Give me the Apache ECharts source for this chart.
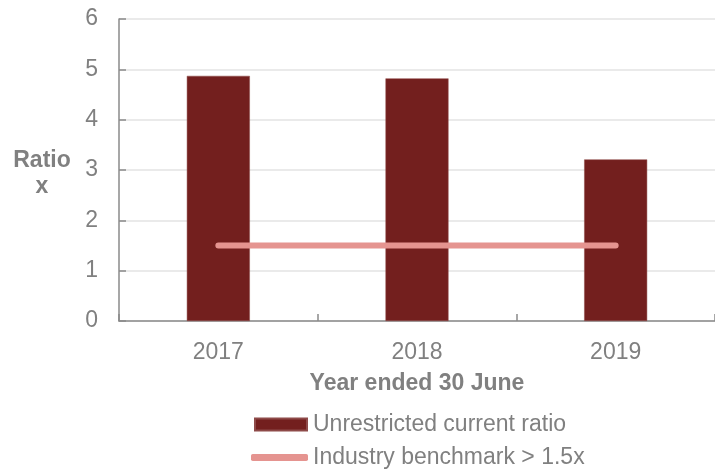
<!DOCTYPE html>
<html>
<head>
<meta charset="utf-8">
<script src="https://cdn.jsdelivr.net/npm/echarts@6/dist/echarts.min.js"></script>
<style>
  html, body { margin: 0; padding: 0; background: #fff; }
  #chart { width: 715px; height: 471px; }
</style>
</head>
<body>
<div id="chart"></div>
<script>
// Financial years shown on the category axis
const years = ['2017', '2018', '2019'];
// Unrestricted current ratio (x) per year
const currentRatio = [4.87, 4.82, 3.21];
// Industry benchmark level (x)
const benchmark = [1.5, 1.5, 1.5];

const barName = 'Unrestricted current ratio';
const lineName = 'Industry benchmark > 1.5x';

const gray = '#808080';
const font = 'Liberation Sans, Arial, sans-serif';

const chart = echarts.init(document.getElementById('chart'), null, { renderer: 'canvas' });

chart.setOption({
  animation: false,
  backgroundColor: '#ffffff',
  textStyle: { fontFamily: font },
  grid: { left: 119, right: -4, top: 19, bottom: 150, containLabel: false },
  xAxis: {
    type: 'category',
    data: years,
    boundaryGap: true,
    name: 'Year ended 30 June',
    nameLocation: 'middle',
    nameGap: 51,
    nameTextStyle: { color: gray, fontSize: 23, fontWeight: 'bold', fontFamily: font },
    axisLine: { lineStyle: { color: '#8a8a8a', width: 1.5 } },
    axisTick: { show: true, inside: true, length: 7, lineStyle: { color: '#8a8a8a', width: 1.5 } },
    axisLabel: { color: gray, fontSize: 23, margin: 20, fontFamily: font },
    splitLine: { show: false }
  },
  yAxis: {
    type: 'value',
    min: 0,
    max: 6,
    interval: 1,
    axisLine: { show: true, lineStyle: { color: '#8a8a8a', width: 1.5 } },
    axisTick: { show: true, inside: true, length: 7, lineStyle: { color: '#8a8a8a', width: 1.5 } },
    axisLabel: { color: gray, fontSize: 23, margin: 21, fontFamily: font },
    splitLine: { show: true, lineStyle: { color: '#e3e3e3', width: 1.5 } }
  },
  graphic: [
    {
      type: 'text',
      x: 42,
      y: 148,
      style: {
        text: 'Ratio\nx',
        fill: gray,
        font: 'bold 23px ' + font,
        align: 'center',
        verticalAlign: 'top',
        lineHeight: 26
      }
    }
  ],
  legend: [
    {
      data: [{ name: barName, icon: 'rect' }],
      left: 249,
      top: 408,
      itemWidth: 52,
      itemHeight: 12,
      itemGap: 0,
      textStyle: { color: gray, fontSize: 23, fontFamily: font, padding: [0, 0, 0, 1] },
      selectedMode: false
    },
    {
      data: [{ name: lineName, icon: 'roundRect' }],
      left: 246,
      top: 441,
      itemWidth: 57,
      itemHeight: 7,
      itemGap: 0,
      textStyle: { color: gray, fontSize: 23, fontFamily: font, padding: [15, 0, 0, 0] },
      selectedMode: false
    }
  ],
  series: [
    {
      name: barName,
      type: 'bar',
      data: currentRatio,
      barWidth: 63,
      itemStyle: { color: '#731f1e', borderColor: '#8e4a49', borderWidth: 0.5 }
    },
    {
      name: lineName,
      type: 'line',
      data: benchmark,
      symbol: 'none',
      color: '#e59490',
      lineStyle: { color: '#e59490', width: 6, cap: 'round' },
      itemStyle: { color: '#e59490' }
    }
  ]
});
</script>
</body>
</html>
